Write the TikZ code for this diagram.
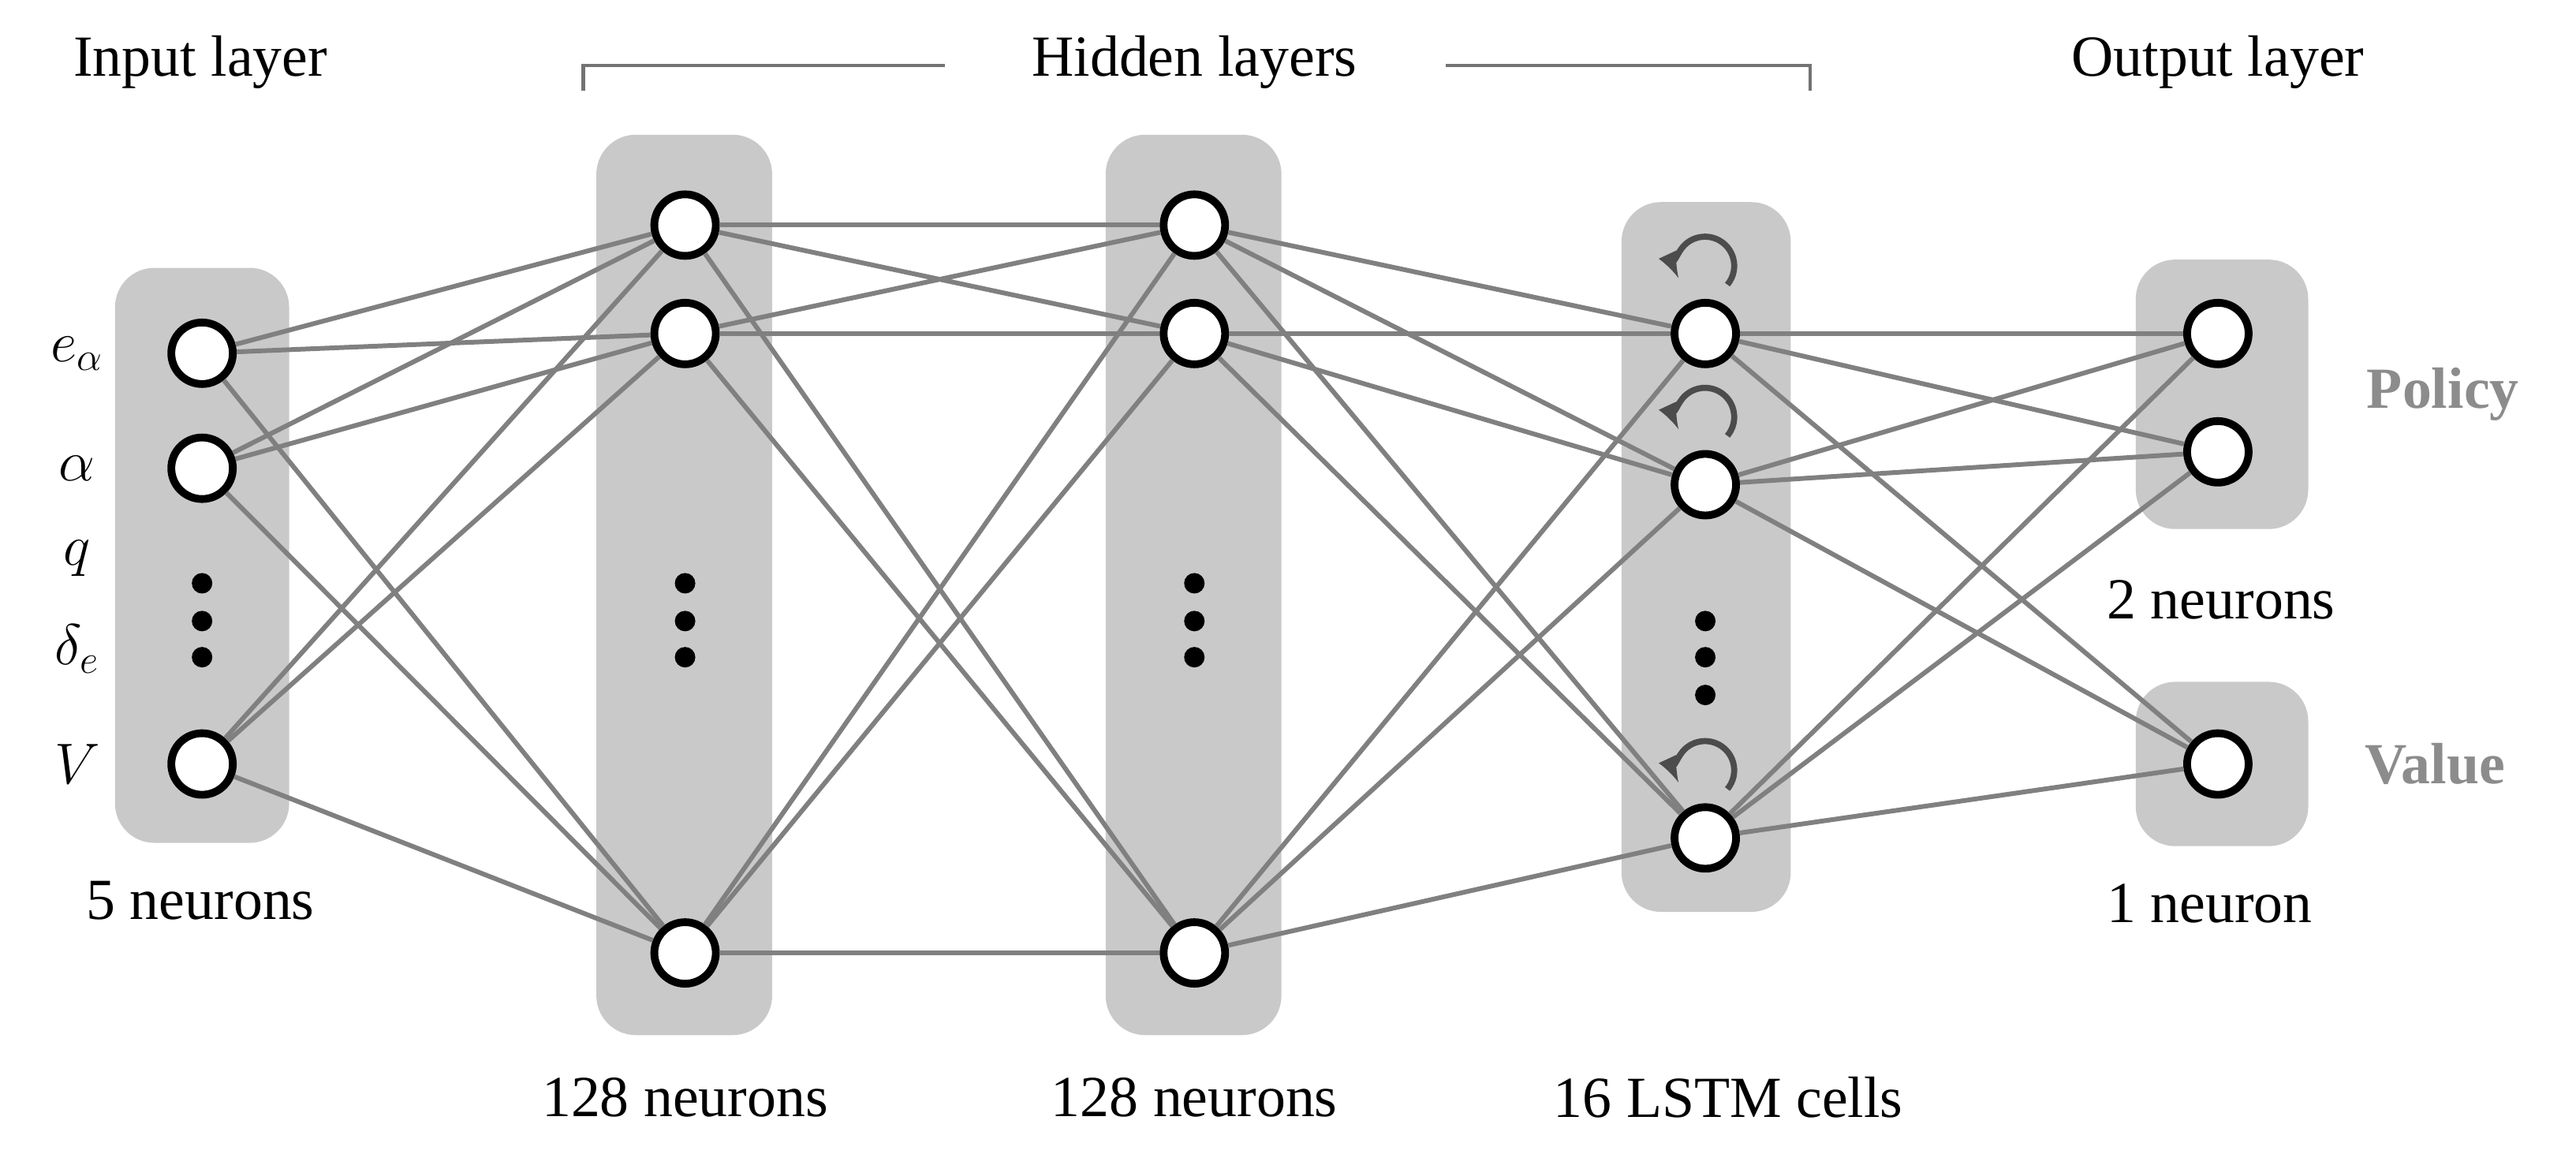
\documentclass[tikz,border=0pt]{standalone}
\usepackage{fontspec}
\setmainfont{Liberation Serif}
\usetikzlibrary{calc}
\tikzset{
  layerbox/.style={draw=none, fill=black!21, rounded corners=0.5cm},
  neuron/.style={circle, draw=black, fill=white, line width=2.8pt, minimum size=0.78cm, inner sep=0pt},
  link/.style={draw=black!50, line width=1.7pt},
  dot/.style={circle, fill=black, inner sep=0pt, minimum size=0.26cm},
  recur/.style={draw=black!70, line width=2.2pt, ->, >=latex},
  caption/.style={font=\fontsize{21}{25}\selectfont},
  tag/.style={font=\fontsize{21}{25}\selectfont\bfseries, text=black!45},
  bracket/.style={draw=black!55, line width=1.2pt}
}
\begin{document}
\begin{tikzpicture}[x=0.02083cm, y=-0.02083cm]
    \useasboundingbox (0,0) rectangle (1568,702);
    % Layer boxes
    \fill[layerbox] (70,163) rectangle (176,513);
    \fill[layerbox] (363,82) rectangle (470,630);
    \fill[layerbox] (673,82) rectangle (780,630);
    \fill[layerbox] (987,123) rectangle (1090,555);
    \fill[layerbox] (1300,158) rectangle (1405,322);
    \fill[layerbox] (1300,415) rectangle (1405,515);

    % Neurons
    \foreach \n/\y in {1/215, 2/285, 3/465} \node (in\n) [neuron] at (123,\y) {};
    \foreach \n/\y in {1/137, 2/203, 3/580} \node (ha\n) [neuron] at (417,\y) {};
    \foreach \n/\y in {1/137, 2/203, 3/580} \node (hb\n) [neuron] at (727,\y) {};
    \foreach \n/\y in {1/203, 2/295, 3/510} \node (ls\n) [neuron] at (1038,\y) {};
    \foreach \n/\y in {1/203, 2/275, 3/465} \node (out\n) [neuron] at (1350,\y) {};

    % Dots
    \foreach \x/\ya/\yb/\yc in {123/355/378/400, 417/355/378/400, 727/355/378/400, 1038/378/400/423}
      \foreach \y in {\ya,\yb,\yc} \node [dot] at (\x,\y) {};

    % Links
    \foreach \a/\b in {in/ha, ha/hb, hb/ls, ls/out}
      \foreach \i in {1,2,3}
        \foreach \j in {1,2,3}
          \draw [link] (\a\i) -- (\b\j);

    % Recurrent loops
    \foreach \n in {1,2,3}
      \draw [recur] ($(ls\n)+(0.28cm,0.62cm)$) arc[start angle=-40, end angle=205, radius=0.37cm];

    % Input labels
    \foreach \t/\y in {$e_\alpha$/215, $\alpha$/285, $q$/340, $\delta_e$/395, $V$/465}
      \node [caption] at (47,\y) {\t};

    % Captions
    \node (inlbl) [caption] at (122,38) {Input layer};
    \node (hidlbl) [caption] at (727,38) {Hidden layers};
    \node (outlbl) [caption] at (1350,38) {Output layer};
    \node [caption] at (122,548) {5 neurons};
    \node [caption] at (417,668) {128 neurons};
    \node [caption] at (727,668) {128 neurons};
    \node [caption] at (1052,668) {16 LSTM cells};
    \node [caption] at (1352,365) {2 neurons};
    \node [caption] at (1345,550) {1 neuron};
    \node [tag] at (1487,240) {Policy};
    \node [tag] at (1482,465) {Value};

    % Bracket
    \draw [bracket] (355,55) -- (355,40) -- (575,40);
    \draw [bracket] (880,40) -- (1102,40) -- (1102,55);
\end{tikzpicture}
\end{document}
